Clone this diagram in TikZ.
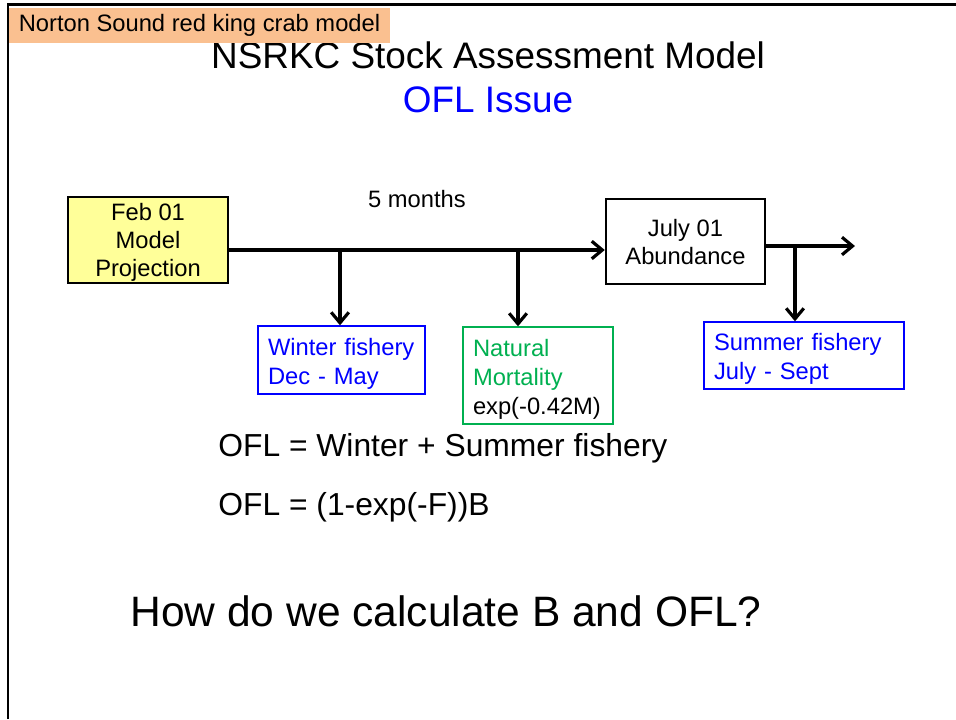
\documentclass[tikz,border=0pt]{standalone}
\usepackage{fontspec}
\setmainfont{Liberation Sans}
\usepackage{xcolor}
\usetikzlibrary{arrows.meta,positioning,calc}
\definecolor{tagorange}{HTML}{FAC090}
\definecolor{boxyellow}{HTML}{FFFF99}
\definecolor{mortgreen}{HTML}{00B050}
\newcommand{\boxfont}{\fontsize{13.5}{16}\selectfont}
\tikzset{
  flow/.style={-{Straight Barb[length=6pt, width=10pt, line width=1.8pt]}, line width=2pt},
  datebox/.style={draw, line width=1.4pt, align=center, inner sep=0pt, text depth=0pt, font=\boxfont},
  infobox/.style={draw, line width=0.8pt, align=left, inner xsep=2mm, inner ysep=0pt, text height=14pt, font=\fontsize{13.5}{16.5}\selectfont},
  eqtext/.style={anchor=base west, inner sep=0pt, font=\fontsize{18.1}{22}\selectfont},
}
\begin{document}
\begin{tikzpicture}[x=0.2mm, y=-0.2mm]
\useasboundingbox (0,0) rectangle (956,719);
% slide frame
\draw[line width=1.7pt] (8,719) -- (8,4) -- (956,4);
% title
\node[anchor=base, inner sep=0pt, font=\fontsize{21}{25}\selectfont] (title) at (488,68) {NSRKC Stock Assessment Model};
\node[anchor=base, inner sep=0pt, text=blue, font=\fontsize{21}{25}\selectfont] (issue) at (488,112) {OFL Issue};
% corner tag
\node[fill=tagorange, minimum width=76.2mm, minimum height=7mm, inner sep=0pt, font=\fontsize{13.5}{16}\selectfont] (tag) at (199.5,25.5) {Norton Sound red king crab model};
% time line boxes
\node[datebox, fill=boxyellow, minimum width=32mm, minimum height=17.2mm] (feb) at (148,240) {Feb 01\\Model\\Projection};
\node[datebox, minimum width=31.8mm, minimum height=17mm] (july) at (685.5,241.5) {July 01\\Abundance};
\node[anchor=base, inner sep=0pt, font=\boxfont] (months) at (417,207.7) {5 months};
% removals
\node[infobox, draw=blue, text=blue, minimum width=33.4mm, minimum height=13.6mm, text width=29.4mm] (winter) at (341.5,360) {Winter fishery\\Dec - May};
\node[infobox, draw=mortgreen, minimum width=30mm, minimum height=19.4mm, text width=26mm] (natural) at (538,375.5) {\textcolor{mortgreen}{Natural}\\\textcolor{mortgreen}{Mortality}\\exp(-0.42M)};
\node[infobox, draw=blue, text=blue, minimum width=40mm, minimum height=13.4mm, text width=36mm] (summer) at (804,355.5) {Summer fishery\\July - Sept};
% branch points
\coordinate (wpt) at (340,250);
\coordinate (mpt) at (518,250);
\coordinate (spt) at (795,246);
\coordinate (tail) at (855,246);
% arrows
\draw[flow] (feb.east |- wpt) -- (july.west |- wpt);
\draw[flow] (july.east |- spt) -- (tail);
\draw[flow] (wpt) -- (winter.north -| wpt);
\draw[flow] (mpt) -- (natural.north -| mpt);
\draw[flow] (spt) -- (summer.north -| spt);
% equations
\node[eqtext] (eq1) at (218,456) {OFL = Winter + Summer fishery};
\node[eqtext] (eq2) at (218,515) {OFL = (1-exp(-F))B};
\node[anchor=base west, inner sep=0pt, font=\fontsize{24.2}{29}\selectfont] (question) at (130,626.7) {How do we calculate B and OFL?};
\end{tikzpicture}
\end{document}
